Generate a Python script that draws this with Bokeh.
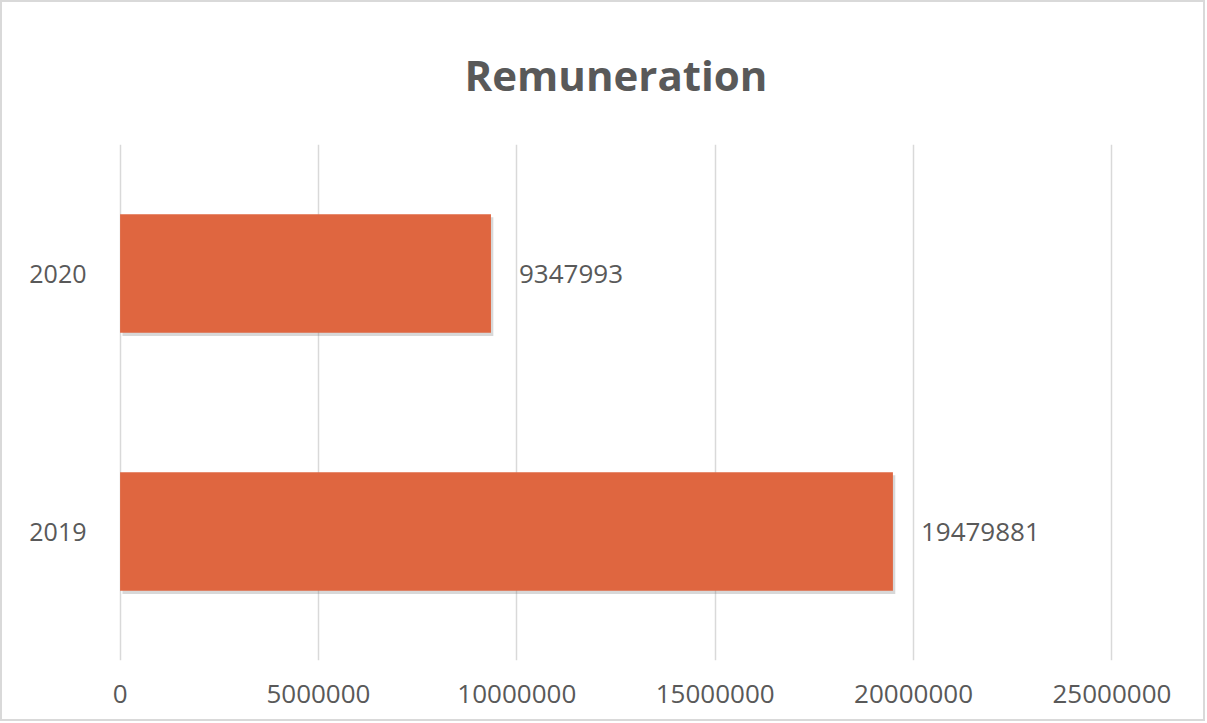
from bokeh.plotting import figure
from bokeh.models import ColumnDataSource, LabelSet, FixedTicker
from bokeh.core.properties import value
from bokeh.transform import dodge
from bokeh.embed import file_html
from bokeh.resources import INLINE

years = ["2019", "2020"]
values = [19479881, 9347993]
x_ticks = [0, 5000000, 10000000, 15000000, 20000000, 25000000]
title_text = "Remuneration"

src = ColumnDataSource(dict(
    year=years,
    value=values,
    zero=[0] * len(values),
    label=[str(v) for v in values],
))

p = figure(
    width=1205, height=721,
    y_range=years, x_range=(-40000, 25040000),
    output_backend="svg", toolbar_location=None,
    min_border_left=116, min_border_right=94,
    min_border_top=141, min_border_bottom=63,
)
p.styles = {"border": "2px solid #d9d9d9", "box-sizing": "border-box"}

p.title.text = title_text
p.title.align = "center"
p.title.text_font = "Open Sans"
p.title.text_font_size = "42px"
p.title.text_font_style = "bold"
p.title.text_color = "#595959"
p.title.text_line_height = 0.8
p.title.standoff = 83

# soft shadow
p.hbar(y=dodge("year", -0.012, range=p.y_range), left=dodge("zero", 60000), right=dodge("value", 60000),
       height=0.46, source=src, fill_color="#7f7f7f", fill_alpha=0.3, line_color=None)
p.hbar(y="year", left="zero", right="value", height=0.46, source=src,
       fill_color="#DF6640", line_color=None)

labels = LabelSet(x="value", y="year", text="label", source=src,
                  x_offset=28, text_baseline="middle",
                  text_font=value("Open Sans"),
                  text_font_size="26px", text_color="#595959")
p.add_layout(labels)

p.xaxis.ticker = FixedTicker(ticks=x_ticks)
p.xaxis.formatter.use_scientific = False
p.xaxis.axis_line_color = None
p.xaxis.major_tick_line_color = None
p.xaxis.minor_tick_line_color = None
p.xaxis.major_label_text_font = "Open Sans"
p.xaxis.major_label_text_font_size = "26px"
p.xaxis.major_label_text_color = "#595959"
p.xaxis.major_label_standoff = 18

p.yaxis.axis_line_color = None
p.yaxis.major_tick_line_color = None
p.yaxis.major_label_text_font = "Open Sans"
p.yaxis.major_label_text_font_size = "25px"
p.yaxis.major_label_text_color = "#595959"
p.yaxis.major_label_standoff = 26

p.xgrid.ticker = FixedTicker(ticks=x_ticks)
p.xgrid.grid_line_color = "#d9d9d9"
p.xgrid.grid_line_width = 1.5
p.ygrid.grid_line_color = None
p.outline_line_color = None
p.y_range.range_padding = 0

open("out.html", "w").write(file_html(p, INLINE))
